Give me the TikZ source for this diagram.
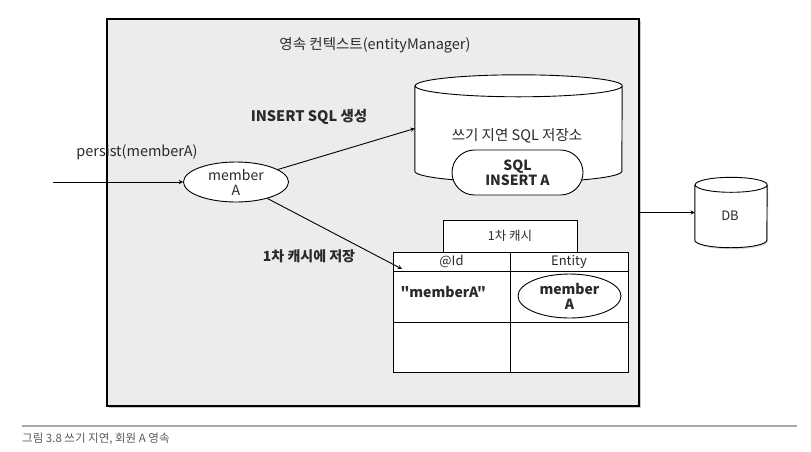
\documentclass[tikz,border=0pt]{standalone}
\usepackage{fontspec}
\setmainfont{Noto Sans CJK KR}[Ligatures=TeXOff]
\usetikzlibrary{shapes.geometric, shapes.misc, arrows, shadows, positioning}
\definecolor{ctxgray}{HTML}{ECECEC}
\definecolor{inkgray}{HTML}{2A2A2A}
\definecolor{rulegray}{HTML}{A8A8A8}
\tikzstyle{ctxbox} = [
    rectangle,
    minimum width=532pt,
    minimum height=387pt,
    draw=black,
    line width=1.2pt,
    fill=ctxgray,
    drop shadow={opacity=0.45, shadow xshift=1.5pt, shadow yshift=-1.5pt}
]
\tikzstyle{storebox} = [
    rectangle,
    inner sep=0pt
]
\tikzstyle{storeline} = [
    draw=black,
    fill=white,
    line width=0.9pt
]
\tikzstyle{entity} = [
    ellipse,
    draw=black,
    fill=white,
    line width=0.9pt,
    align=center,
    inner sep=0pt
]
\tikzstyle{sqlbox} = [
    rounded rectangle,
    minimum width=131pt,
    minimum height=45pt,
    draw=black,
    fill=white,
    line width=0.9pt,
    align=center,
    inner sep=0pt
]
\tikzstyle{cell} = [
    rectangle,
    minimum width=117pt,
    draw=black,
    fill=white,
    line width=0.9pt,
    inner sep=0pt
]
\tikzstyle{tag} = [text=inkgray, font=\fontsize{14.5}{16}\selectfont]
\tikzstyle{arrow} = [line width=0.9pt,->,>=stealth]

\begin{document}
\begin{tikzpicture}[x=1pt, y=-1pt, text=inkgray]

\useasboundingbox (0,0) rectangle (811,451);

\node (ctx) [ctxbox] at (373,212.5) {};
\node (title) [tag] at (375,45) {영속 컨텍스트(entityManager)};

% write-behind SQL store
\node (store) [storebox, minimum width=207pt, minimum height=107pt]
    at (518.5,128.5) {};
\draw [storeline] ([yshift=-11pt]store.north west)
    -- ([yshift=11pt]store.south west)
    arc [start angle=180, end angle=360, x radius=103.5pt, y radius=11pt]
    -- ([yshift=-11pt]store.north east)
    arc [start angle=0, end angle=360, x radius=103.5pt, y radius=11pt];
\node (storetext) [tag] at (517,136) {쓰기 지연 SQL 저장소};
\node (sql) [sqlbox, tag, font=\fontsize{14}{15}\selectfont\bfseries]
    at (517.5,172.5) {SQL\\INSERT A};

% member entity
\node (memberA) [entity, tag, minimum width=105pt, minimum height=40pt,
    font=\fontsize{14}{15}\selectfont] at (236,182) {member\\A};
\coordinate (pin) at (53,182);
\node (persist) [tag] at (137,152) {persist(memberA)};
\node (inserttext) [tag, font=\fontsize{14.5}{16}\selectfont\bfseries]
    at (309,117) {INSERT SQL 생성};
\node (cachetext) [tag, font=\fontsize{14}{16}\selectfont\bfseries]
    at (309,256) {1차 캐시에 저장};

% first-level cache table
\node (cachetitle) [cell, tag, minimum width=134pt, minimum height=32pt,
    font=\fontsize{12.5}{14}\selectfont] at (510,236) {1차 캐시};
\node (idhead) [cell, tag, minimum height=19pt, font=\fontsize{13}{14}\selectfont]
    at (451.5,261.5) {@Id};
\node (entityhead) [cell, tag, minimum width=118pt, minimum height=19pt,
    font=\fontsize{13}{14}\selectfont, right=-0.9pt of idhead] {Entity};
\node (idcell) [cell, minimum height=51pt, below=-0.9pt of idhead] {};
\node (entitycell) [cell, minimum width=118pt, minimum height=51pt,
    below=-0.9pt of entityhead] {};
\node (idempty) [cell, minimum height=50pt, below=-0.9pt of idcell] {};
\node (entityempty) [cell, minimum width=118pt, minimum height=50pt,
    below=-0.9pt of entitycell] {};
\node (idkey) [tag, anchor=west, font=\fontsize{14}{16}\selectfont\bfseries]
    at (397,292) {"memberA"};
\node (cached) [entity, tag, minimum width=103pt, minimum height=44pt,
    font=\fontsize{14}{15}\selectfont\bfseries] at (569.5,296) {member\\A};
\coordinate (cachein) at (402,269);

% database
\node (db) [storebox, minimum width=72pt, minimum height=70pt] at (731,212.5) {};
\draw [storeline, drop shadow={opacity=0.3, shadow xshift=1pt, shadow yshift=-1.5pt}]
    ([yshift=-7.5pt]db.north west)
    -- ([yshift=7.5pt]db.south west)
    arc [start angle=180, end angle=360, x radius=36pt, y radius=7.5pt]
    -- ([yshift=-7.5pt]db.north east)
    arc [start angle=0, end angle=360, x radius=36pt, y radius=7.5pt];
\node (dbtext) [tag, font=\fontsize{13}{14}\selectfont] at (730,216) {DB};

\draw [arrow] (pin) -- (memberA.west);
\draw [arrow] (memberA) -- (store.west);
\draw [arrow] (memberA) -- (cachein);
\draw [arrow] (ctx.east) -- (db.west);

% caption
\draw [rulegray, line width=1.6pt] (22,426) -- (797,426);
\node (caption) [anchor=west, text=black!65, inner sep=0pt,
    font=\fontsize{11.5}{13}\selectfont] at (22,439) {그림 3.8 쓰기 지연, 회원 A 영속};

\end{tikzpicture}
\end{document}
